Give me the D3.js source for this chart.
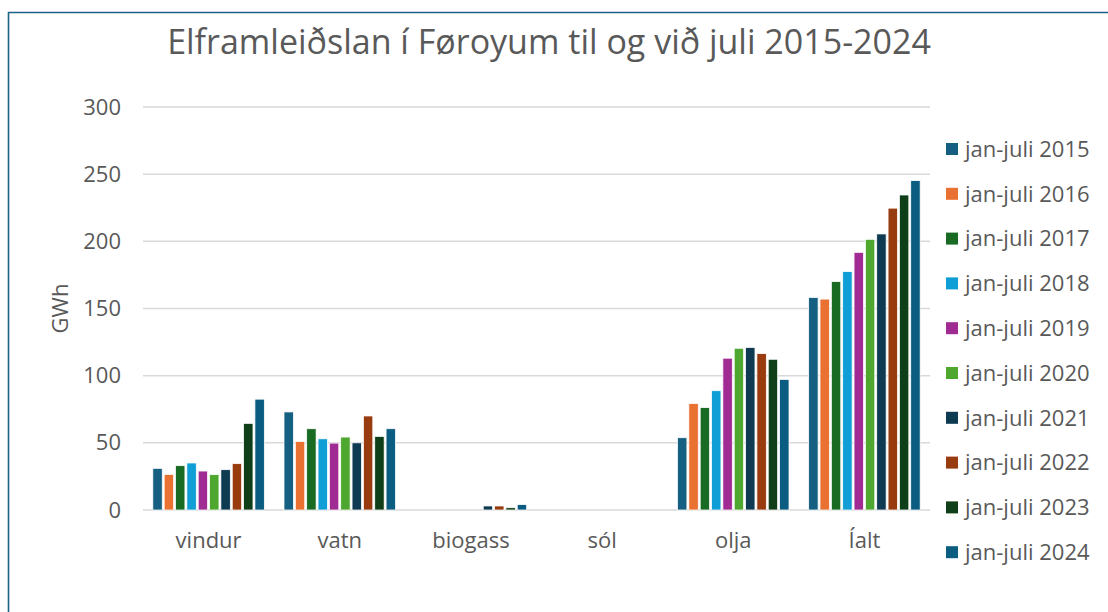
<!DOCTYPE html>
<html>
<head>
<meta charset="utf-8">
<script src="https://cdn.jsdelivr.net/npm/d3@7"></script>
<style>
  body { margin: 0; background: #fff; }
  text { font-family: "Open Sans", "Noto Sans", sans-serif; fill: #595959; }
</style>
</head>
<body>
<script>
// categories and years
var categories = ["vindur", "vatn", "biogass", "sól", "olja", "Íalt"];
var years = ["jan-juli 2015", "jan-juli 2016", "jan-juli 2017", "jan-juli 2018", "jan-juli 2019",
             "jan-juli 2020", "jan-juli 2021", "jan-juli 2022", "jan-juli 2023", "jan-juli 2024"];
var colors = ["#156082", "#e97132", "#196b24", "#0f9ed5", "#a02b93",
              "#4ea72e", "#0e3a52", "#983c10", "#0f3f18", "#0a5c80"];

// GWh per year, one array per category (2015 ... 2024)
var vindur  = [31, 26.5, 33, 35, 29, 26.3, 30, 34.5, 64.5, 82.5];
var vatn    = [73, 51, 60.5, 53, 49.8, 54.3, 50, 70, 54.8, 60.5];
var biogass = [0, 0, 0, 0, 0, 0, 3, 3, 1.7, 4];
var sol     = [0, 0, 0, 0, 0, 0, 0, 0, 0, 0];
var olja    = [53.8, 79.3, 76.2, 88.8, 113, 120.4, 121, 116.4, 112.2, 97.2];
var ialt    = [158.2, 157, 170, 177.5, 191.8, 201.5, 205.5, 224.7, 234.5, 245.2];
var yTicks  = [0, 50, 100, 150, 200, 250, 300];

var values = [vindur, vatn, biogass, sol, olja, ialt];

var width = 1108;
var height = 612;
var margin = {top: 107, right: 178, bottom: 102, left: 143}; // plot area 143..930 x 107..510

var svg = d3.select("body").append("svg").attr("width", width).attr("height", height);

// frame line top and left
svg.append("path")
   .attr("d", "M8.5," + height + " V12.5 H" + width)
   .attr("fill", "none")
   .attr("stroke", "#1d6286")
   .attr("stroke-width", 1.6);

// title
svg.append("text")
   .attr("x", 549)
   .attr("y", 54)
   .attr("text-anchor", "middle")
   .style("font-size", "34px")
   .text("Elframleiðslan í Føroyum til og við juli 2015-2024");

var x = d3.scaleBand()
      .domain(categories)
      .range([margin.left, width - margin.right])
      .paddingInner(0.15)
      .paddingOuter(0.075);

var xInner = d3.scaleBand()
      .domain(d3.range(years.length))
      .range([0, x.bandwidth()])
      .paddingInner(0.17)
      .paddingOuter(0);

var y = d3.scaleLinear()
      .domain([0, 300])
      .range([height - margin.bottom, margin.top]);

// gridlines
svg.append("g")
   .selectAll("line")
   .data(yTicks)
   .enter().append("line")
     .attr("x1", margin.left)
     .attr("x2", width - margin.right)
     .attr("y1", function(d) { return y(d); })
     .attr("y2", function(d) { return y(d); })
     .attr("stroke", "#d9d9d9")
     .attr("stroke-width", 1.5);

// y axis labels
var yAxis = d3.axisLeft(y).tickValues(yTicks).tickSize(0).tickPadding(22);
var yG = svg.append("g").attr("transform", "translate(" + margin.left + ",0)").call(yAxis);
yG.select(".domain").remove();
yG.selectAll("text").style("font-size", "22px").attr("fill", "#595959");

// x axis labels
var xAxis = d3.axisBottom(x).tickSize(0).tickPadding(22);
var xG = svg.append("g").attr("transform", "translate(0," + y(0) + ")").call(xAxis);
xG.select(".domain").remove();
xG.selectAll("text").style("font-size", "22px").attr("fill", "#595959");

// y axis title
svg.append("text")
   .attr("transform", "translate(68," + y(150) + ") rotate(-90)")
   .attr("text-anchor", "middle")
   .style("font-size", "22px")
   .text("GWh");

// bars
var groups = svg.append("g")
   .selectAll("g")
   .data(categories)
   .enter().append("g")
     .attr("transform", function(d) { return "translate(" + x(d) + ",0)"; });

groups.selectAll("rect")
   .data(function(d, i) { return values[i]; })
   .enter().append("rect")
     .attr("x", function(d, j) { return xInner(j); })
     .attr("y", function(d) { return y(d); })
     .attr("width", xInner.bandwidth())
     .attr("height", function(d) { return y(0) - y(d); })
     .attr("fill", function(d, j) { return colors[j]; })
     .attr("stroke", "#fff")
     .attr("stroke-width", 0.75);

// legend
var legend = svg.append("g")
   .selectAll("g")
   .data(years)
   .enter().append("g")
     .attr("transform", function(d, i) { return "translate(946," + (149 + i * 44.8) + ")"; });

legend.append("rect")
   .attr("x", 0)
   .attr("y", -6)
   .attr("width", 12)
   .attr("height", 12)
   .attr("fill", function(d, i) { return colors[i]; });

legend.append("text")
   .attr("x", 19)
   .attr("dy", "0.35em")
   .style("font-size", "22px")
   .text(function(d) { return d; });
</script>
</body>
</html>
